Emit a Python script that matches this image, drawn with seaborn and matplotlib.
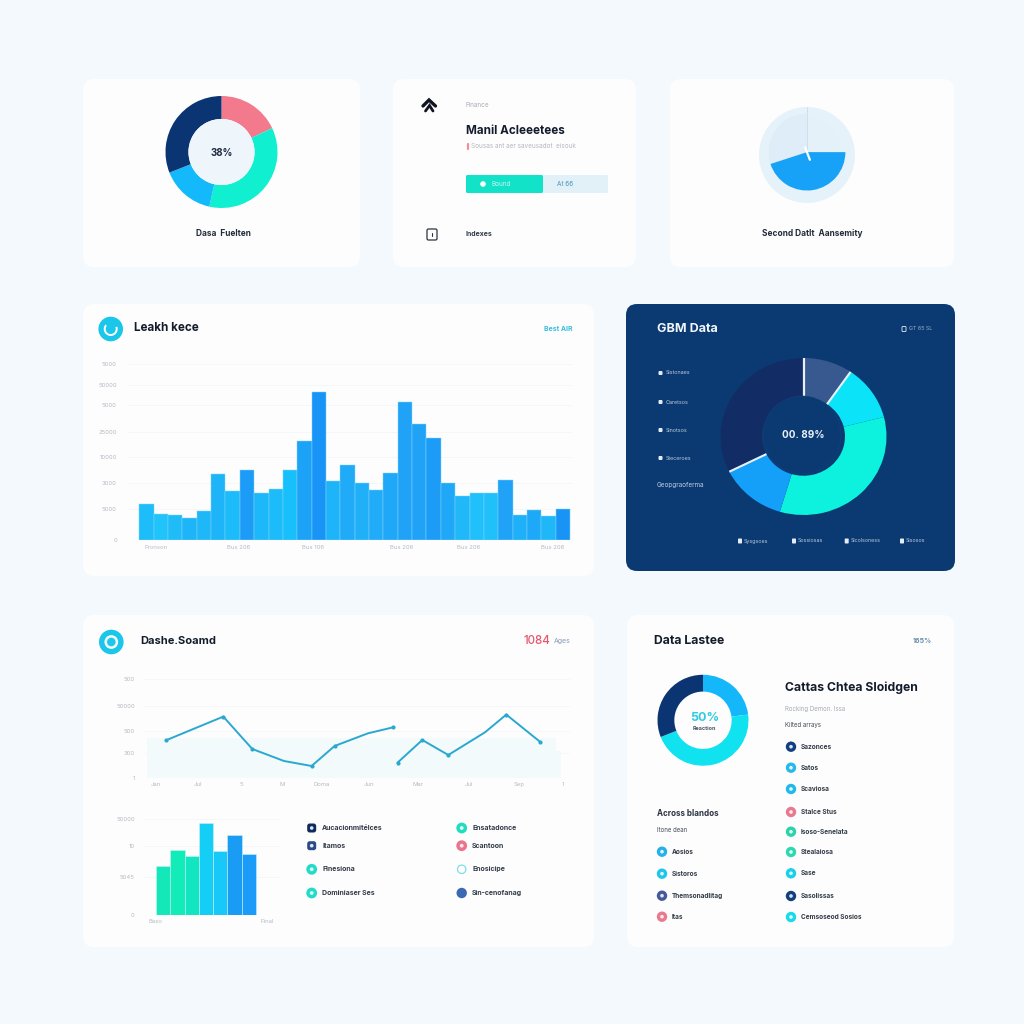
import matplotlib
matplotlib.use("Agg")
import matplotlib.pyplot as plt
from matplotlib.patches import FancyBboxPatch, Circle, Arc
import seaborn as sns
import numpy as np
import pandas as pd

# --- data ---
donut1_values = [18, 35.5, 15.5, 31]
donut1_colors = ["#f27a8c", "#10efd0", "#14b9fb", "#0b3572"]

gauge_values = [45, 30, 25]
gauge_colors = ["#18a2f7", "#deedf7", "#e4f1f9"]

dark_values = [9.6, 11.4, 33.6, 13, 32.4]
dark_colors = ["#38598f", "#0be4f8", "#0cf2de", "#149ff8", "#122d66"]

donut3_values = [23, 46, 31]
donut3_colors = ["#14b8fa", "#10e2f0", "#0b3572"]

main_bars = [36, 26, 24.7, 21.7, 28.7, 66, 49.3, 69.7, 47.3, 50.7, 70.3, 98.7, 148,
             59.3, 74.7, 57.3, 50, 67.3, 138.3, 116, 101.7, 56.7, 44, 46.7, 47.3,
             60, 25.3, 29.7, 24, 30.7]
main_colors = ["#1cbdf8", "#20c4fa", "#1fbcf8", "#1eb5f8", "#1eb8f8", "#1eb4f8", "#1cbcfa",
               "#1c9cf6", "#1cb8fa", "#1cbcfa", "#18c0fb", "#1ca2f6", "#1894f6", "#1eb4fa",
               "#20abf8", "#20b0f8", "#20acf8", "#20a8f8", "#20a2f6", "#20a2f6", "#1c9cf6",
               "#20a8f8", "#20b8f9", "#20c0fa", "#20c0fa", "#20a2f6", "#1eb0f8", "#1ea8f8",
               "#1eb8f9", "#1894f6"]
main_yticks = [0, 30.7, 56.7, 83.3, 108.3, 135, 155, 176]
main_ylabels = ["0", "5000", "3000", "10000", "25000", "5000", "50000", "5000"]
main_xticks = [0.65, 6.4, 11.6, 17.8, 22.45, 28.3]
main_xlabels = ["Fronson", "Bus 206", "Bus 106", "Bus 206", "Bus 206", "Bus 206"]

line_x1 = [22.7, 80, 109, 140.7, 168.3, 191.3, 224.7, 250]
line_y1 = [38, 61.7, 29.3, 17.3, 12.3, 32.3, 45, 51]
line_x2 = [254.3, 279, 305, 341.7, 363, 397]
line_y2 = [15.7, 38.3, 23.3, 46, 63.7, 36.3]
area_x = [3.3, 413, 413, 418]
area_y = [40, 40, 27, 27]
line_yticks = [0, 25.3, 47.3, 72.7, 99.3]
line_ylabels = ["1", "300", "500", "50000", "500"]
line_xticks = [12.3, 54.7, 98, 139, 178, 225.3, 274.7, 325.7, 375.7, 419.3]
line_xlabels = ["Jan", "Jul", "5", "M", "Doma", "Jun", "Mar", "Jul", "Sep", "1"]

small_bars = [49, 65, 59.3, 92.3, 63.7, 79.7, 61]
small_colors = ["#14e8b8", "#12ecb8", "#12e6c0", "#14cef6", "#18c8f8", "#1a9cf5", "#1a9cf8"]
small_yticks = [0, 37.7, 69, 95.7]
small_ylabels = ["0", "5045", "10", "50000"]

legend_names = ["Aucacionmitélces", "Itamos", "Finesiona", "Dominiaser Ses",
                "Ensatadonce", "Scantoon", "Enosicipe", "Sin-cenofanag"]
legend_colors = ["#0f2a5e", "#2c4a8a", "#22dcc8", "#22dcc8", "#22dcc0", "#ea7490", "#ffffff", "#3c68b4"]

side_names = ["Sazonces", "Satos", "Scaviosa", "Stalce Stus", "Isoso-Senelata",
              "Stealaiosa", "Sase", "Sasolissas", "Cemsoseod Sosios"]
side_colors = ["#123f80", "#28b8ea", "#22b8ea", "#e87a90", "#2cd3a8", "#2cd8b0", "#18d0ea", "#123f80", "#18dae8"]
low_names = ["Aosios", "Sistoros", "Themsonadlitag", "Itas"]
low_colors = ["#28b0ea", "#20c5ea", "#44589a", "#e87a90"]

dark_names = ["Sistonaes", "Caretsos", "Sinotsos", "Steceroes"]
dark_bottom = ["Sysgsoes", "Sossiosas", "Sicolsoness", "Sisosos"]


sns.set_theme(style="white")
plt.rcParams["font.family"] = ["Inter", "DejaVu Sans"]

fig = plt.figure(figsize=(10.24, 10.24), dpi=100, facecolor="#f4f9fd")


def add_ax(x0, y0, x1, y1, zorder=1):
    # rectangle given in image pixels, y going down
    ax = fig.add_axes([x0 / 1024, 1 - y1 / 1024, (x1 - x0) / 1024, (y1 - y0) / 1024], zorder=zorder)
    ax.patch.set_alpha(0)
    return ax


bg = add_ax(0, 0, 1024, 1024, zorder=0)
top = add_ax(0, 0, 1024, 1024, zorder=3)
for a in (bg, top):
    a.set_xlim(0, 1024)
    a.set_ylim(1024, 0)
    a.axis("off")


def card(x0, y0, x1, y1, color="#fdfdfe"):
    bg.add_patch(FancyBboxPatch((x0, y0), x1 - x0, y1 - y0, boxstyle="round,pad=0,rounding_size=11",
                                facecolor=color, edgecolor="none"))


def label(x, y, s, fs=5, color="#333c48", weight="normal", ha="left"):
    top.text(x, y, s, fontsize=fs, color=color, fontweight=weight, ha=ha, va="center")


def dot(x, y, r, color, inner="#ffffff"):
    top.add_patch(Circle((x, y), r, facecolor=color, edgecolor="none"))
    if inner:
        top.add_patch(Circle((x, y), r * 0.35, facecolor=inner, edgecolor="none", alpha=0.85))


def donut(box, values, colors, width, hole=None):
    ax = add_ax(*box)
    ax.pie(values, colors=colors, startangle=90, counterclock=False, radius=1,
           wedgeprops=dict(width=width, linewidth=0))
    if hole:
        ax.add_patch(Circle((0, 0), 1 - width, facecolor=hole, edgecolor="none"))
    ax.set_xlim(-1, 1)
    ax.set_ylim(-1, 1)
    return ax


def clean(ax, tick_color="#b4bbc3", size=4.3):
    sns.despine(ax=ax, left=True, bottom=True)
    ax.set_xlabel("")
    ax.set_ylabel("")
    ax.tick_params(length=0, labelsize=size, colors=tick_color)


def tarjeta_superior():
    card(83, 79, 360, 267)
    card(393, 79, 636, 267)
    card(670, 79, 954, 267)

    # donut
    donut((165.5, 96, 277.5, 208), donut1_values, donut1_colors, 0.41, hole="#eff6fb")
    label(221.5, 153, "38%", 7, "#1d2a3d", "bold", "center")
    label(223, 234, "Dasa  Fuelten", 6, "#222b38", "bold", "center")

    # text card, logo drawn as two chevrons
    top.plot([423, 429, 435.5], [106, 100, 106], color="#10151f", lw=2.4, solid_joinstyle="miter")
    top.plot([425.5, 429.5, 433], [111, 105.5, 111], color="#10151f", lw=2, solid_joinstyle="miter")
    label(466, 105, "Finance", 4.6, "#a9adb3")
    label(466, 131, "Manil Acleeetees", 8.4, "#141c2c", "bold")
    top.plot([467.5, 467.5], [143.5, 149], color="#ef8f98", lw=1.6)
    label(471, 146, "Sousas ant aer saveusadot  eisouk", 4.6, "#b3b7bd")
    top.add_patch(FancyBboxPatch((466, 175), 77, 18, boxstyle="round,pad=0,rounding_size=1.5",
                                 facecolor="#11e2c8", edgecolor="none"))
    top.add_patch(FancyBboxPatch((543, 175), 65, 18, boxstyle="round,pad=0,rounding_size=1.5",
                                 facecolor="#e2f1f8", edgecolor="none"))
    top.add_patch(Circle((483, 184), 2.8, facecolor="#ffffff", edgecolor="none"))
    label(492, 184, "Bound", 4.6, "#c9f7ef")
    label(557, 184, "At 66", 4.6, "#4a93c0")
    top.add_patch(FancyBboxPatch((427, 229), 10, 11, boxstyle="round,pad=0,rounding_size=1.5",
                                 facecolor="none", edgecolor="#2b3340", linewidth=0.9))
    top.plot([432, 432], [232.5, 236], color="#2b3340", lw=0.8)
    label(466, 234, "Indexes", 5, "#333c48", "bold")

    # gauge
    ax = add_ax(759, 107, 855, 203)
    ax.add_patch(Circle((0, 0), 1, facecolor="#e6f2fa", edgecolor="none"))
    ax.pie([gauge_values[1], 100 - gauge_values[1]], colors=[gauge_colors[1], "none"], startangle=198,
           counterclock=False, radius=0.8, center=(0, 0.06), wedgeprops=dict(linewidth=0))
    ax.pie([gauge_values[2], 100 - gauge_values[2]], colors=[gauge_colors[2], "none"], startangle=90,
           counterclock=False, radius=0.7, center=(0, 0.06), wedgeprops=dict(linewidth=0))
    ax.pie([gauge_values[0], 100 - gauge_values[0]], colors=[gauge_colors[0], "none"], startangle=0,
           counterclock=False, radius=0.8, center=(0, 0.06), wedgeprops=dict(linewidth=0))
    ax.plot([0, 0], [0.1, 1], color="#c8dfee", lw=0.6)
    ax.plot([-0.04, 0.06], [0.16, -0.1], color="#ffffff", lw=1.6)
    ax.set_xlim(-1, 1)
    ax.set_ylim(-1, 1)
    label(812, 234, "Second Datlt  Aansemity", 6, "#222b38", "bold", "center")


def tarjeta_barras():
    card(83, 304, 594, 576)
    top.add_patch(Circle((110.7, 329), 12.3, facecolor="#1ac6ea", edgecolor="none"))
    top.add_patch(Arc((110.7, 329), 12, 12, theta1=-20, theta2=220, color="#ffffff", lw=1.4))
    label(134, 328, "Leakh kece", 8.4, "#141c2c", "bold")
    label(573, 329, "Best AIR", 5, "#35bfe0", "bold", "right")

    # bars span 139.3..570, the axes add the room for the gridlines
    ax = add_ax(128, 364, 572, 540)
    unit = (570 - 139.3) / len(main_bars)
    df = pd.DataFrame({"k": [str(i) for i in range(len(main_bars))], "v": main_bars})
    ax.set_axisbelow(True)
    ax.grid(True, axis="y", color="#f4f6f8", lw=0.7)
    sns.barplot(data=df, x="k", y="v", hue="k", palette=main_colors, legend=False, width=1,
                saturation=1, edgecolor="#7fd4fb", linewidth=0.35, ax=ax)
    ax.set_xlim(-0.5 - (139.3 - 128) / unit, len(main_bars) - 0.5 + (572 - 570) / unit)
    ax.set_ylim(0, 176)
    ax.set_yticks(main_yticks, main_ylabels)
    ax.set_xticks(main_xticks, main_xlabels)
    clean(ax)
    ax.tick_params(axis="y", pad=8)
    ax.tick_params(axis="x", pad=3.5)


def tarjeta_oscura():
    card(626, 304, 955, 571, color="#0b3a72")
    label(657, 329, "GBM Data", 9, "#f2f6fb", "bold")
    top.add_patch(FancyBboxPatch((902, 326.5), 4, 5, boxstyle="round,pad=0,rounding_size=0.8",
                                 facecolor="#0b3a72", edgecolor="#c9d6e6", linewidth=0.7))
    label(909, 329, "GT 65 SL", 3.8, "#9fb3cc")

    ax = add_ax(720.5, 358, 886.5, 515)
    ax.pie(dark_values, colors=dark_colors, startangle=90, counterclock=False, radius=1,
           wedgeprops=dict(width=0.5, linewidth=0))
    ax.set_aspect("auto")
    ax.set_xlim(-1, 1)
    ax.set_ylim(-1, 1)
    # white separators between the slices
    for i, lw in ((0, 1.6), (1, 1.5), (4, 1.5)):
        ang = 90 - 360 * sum(dark_values[:i]) / sum(dark_values)
        c, s = np.cos(np.radians(ang)), np.sin(np.radians(ang))
        ax.plot([0.5 * c, c], [0.5 * s, s], color="#e8f1f8", lw=lw, solid_capstyle="butt")
    top.add_patch(Circle((802, 435), 39, facecolor="#0b3a72", edgecolor="#123f78", linewidth=0.5))
    label(803, 435, "00. 89%", 7.2, "#e9f1f8", "bold", "center")

    for y, name in zip([373, 402, 430, 458], dark_names):
        top.add_patch(FancyBboxPatch((658.5, y - 2), 4, 4, boxstyle="round,pad=0,rounding_size=1",
                                     facecolor="#e4ecf5", edgecolor="none"))
        label(666, y, name, 3.9, "#b9c8dc")
    label(657, 485, "Geopgraoferma", 4.6, "#bccbe0")
    for x, name in zip([740, 794, 846.7, 902], dark_bottom):
        top.add_patch(FancyBboxPatch((x - 2, 538.5), 4, 5, boxstyle="round,pad=0,rounding_size=0.8",
                                     facecolor="#e4ecf5", edgecolor="none"))
        label(x + 4, 541, name, 3.8, "#b9c8dc")


def tarjeta_lineas():
    card(83, 615, 594, 947)
    top.add_patch(Circle((111.3, 642), 12.3, facecolor="#1ac6ea", edgecolor="none"))
    top.add_patch(Circle((111.3, 642), 6, facecolor="#d5f4fb", edgecolor="#ffffff", linewidth=1.2))
    top.add_patch(Circle((111.3, 642), 4.2, facecolor="#1ac6ea", edgecolor="none"))
    label(140, 641, "Dashe.Soamd", 8, "#141c2c", "bold")
    label(523, 641, "1084", 8.3, "#e5586c", "medium")
    label(554, 641, "Ages", 5, "#8b9bb5")

    ax = add_ax(143.3, 679, 570, 778.3)
    ax.set_axisbelow(True)
    ax.grid(True, axis="y", color="#f5f7f8", lw=0.7)
    ax.fill_between(area_x, area_y, 0, color="#f2fafc", lw=0)
    line_color = "#2ba8cf"
    sns.lineplot(x=line_x1, y=line_y1, color=line_color, lw=1.4, sort=False, ax=ax)
    sns.lineplot(x=line_x2, y=line_y2, color=line_color, lw=1.4, sort=False, ax=ax)
    # some vertices have no marker in the original
    mark1 = [0, 1, 2, 4, 5, 7]
    mark2 = [0, 1, 2, 4, 5]
    sns.scatterplot(x=[line_x1[i] for i in mark1] + [line_x2[i] for i in mark2],
                    y=[line_y1[i] for i in mark1] + [line_y2[i] for i in mark2],
                    color=line_color, s=9, linewidth=0, ax=ax)
    ax.set_xlim(0, 426.7)
    ax.set_ylim(0, 99.3)
    ax.set_yticks(line_yticks, line_ylabels)
    ax.set_xticks(line_xticks, line_xlabels)
    clean(ax)
    ax.tick_params(axis="y", pad=6)
    ax.tick_params(axis="x", pad=3)

    # small bars, 156..256 wide
    ax2 = add_ax(143, 819, 280, 915)
    unit = (256 - 156) / len(small_bars)
    df = pd.DataFrame({"k": [str(i) for i in range(len(small_bars))], "v": small_bars})
    ax2.set_axisbelow(True)
    ax2.grid(True, axis="y", color="#f4f6f8", lw=0.7)
    sns.barplot(data=df, x="k", y="v", hue="k", palette=small_colors, legend=False, width=1,
                saturation=1, edgecolor="#c5f3f5", linewidth=0.4, ax=ax2)
    ax2.set_xlim(-0.5 - (156 - 143) / unit, len(small_bars) - 0.5 + (280 - 256) / unit)
    ax2.set_ylim(0, 96)
    ax2.set_yticks(small_yticks, small_ylabels)
    ax2.set_xticks([-0.52, 7.27], ["Baso", "Final"])
    clean(ax2)
    ax2.tick_params(axis="y", pad=6)
    ax2.tick_params(axis="x", pad=3)

    rows = [828, 845.7, 869.3, 893]
    for i, (name, color) in enumerate(zip(legend_names, legend_colors)):
        x = 311.7 if i < 4 else 461.7
        y = rows[i % 4]
        if i < 2:
            top.add_patch(FancyBboxPatch((x - 4.5, y - 4.5), 9, 9, boxstyle="round,pad=0,rounding_size=2.5",
                                         facecolor=color, edgecolor="none"))
            top.add_patch(Circle((x, y), 1.8, facecolor="#dfe7f2", edgecolor="none"))
        elif color == "#ffffff":
            top.add_patch(Circle((x, y), 4.2, facecolor="#ffffff", edgecolor="#7fdcec", linewidth=0.9))
        elif i == 7:
            top.add_patch(Circle((x, y), 5.2, facecolor=color, edgecolor="none"))
        else:
            dot(x, y, 5.4, color)
        label(x + 10.5, y, name, 5, "#333c48", "bold")


def tarjeta_lista():
    card(627, 615, 954, 947)
    label(654, 641, "Data Lastee", 8.8, "#141c2c", "bold")
    label(932, 641, "165%", 5, "#6a8fb0", "bold", "right")

    donut((657.5, 674.5, 748.5, 766), donut3_values, donut3_colors, 0.37)
    label(704.5, 718, "50%", 9, "#2fcbe0", "bold", "center")
    label(704, 728.5, "Reaction", 3.9, "#4b5563", "bold", "center")

    label(785, 688, "Cattas Chtea Sloidgen", 8.8, "#141c2c", "bold")
    label(785, 709, "Rocking Demon. Issa", 4.4, "#a6abb2")
    label(785, 725, "Kilted arrays", 4.4, "#444c58")
    for y, name, color in zip([746.7, 767.7, 789, 812, 831.7, 852, 873.3, 896, 917], side_names, side_colors):
        dot(791, y, 5.2, color)
        label(801, y, name, 4.7, "#333c48", "bold")

    label(657, 813.6, "Across blandos", 5.8, "#2a3240", "bold")
    label(657, 830, "Itone dean", 4.4, "#444c58")
    for y, name, color in zip([851.7, 873.7, 895.7, 916.7], low_names, low_colors):
        dot(662, y, 5.2, color)
        label(672, y, name, 4.7, "#333c48", "bold")


tarjeta_superior()
tarjeta_barras()
tarjeta_oscura()
tarjeta_lineas()
tarjeta_lista()

fig.savefig("out.png", dpi=100, facecolor=fig.get_facecolor())
